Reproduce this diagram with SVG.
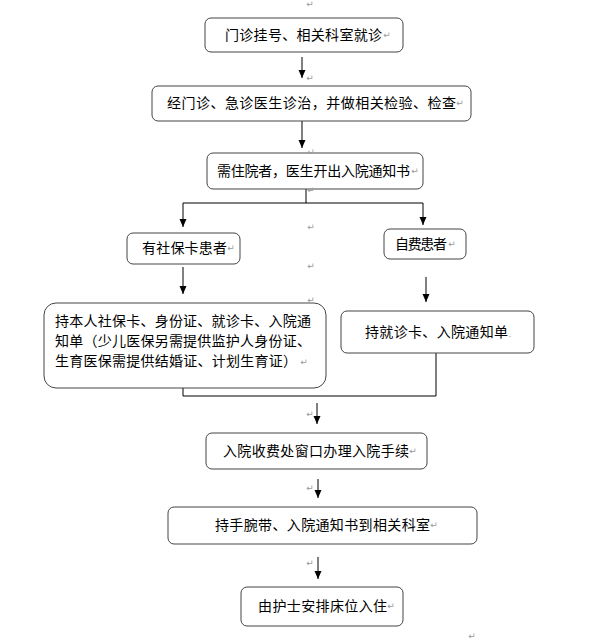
<svg xmlns="http://www.w3.org/2000/svg" width="591" height="644" viewBox="0 0 591 644">
<style>
.box{fill:#fff;stroke:#444;stroke-width:1}
.t{font-family:"Noto Sans CJK SC","Liberation Sans",sans-serif;font-size:14px;fill:#000}
.pm{font-family:"DejaVu Sans",sans-serif;font-size:9px;fill:#999;text-anchor:middle}
.ln{fill:none;stroke:#000;stroke-width:1}
.ar{fill:none;stroke:#000;stroke-width:1;marker-end:url(#ah)}
</style>
<defs>
<marker id="ah" markerUnits="userSpaceOnUse" markerWidth="8" markerHeight="8" refX="8" refY="3.5" orient="auto">
<path d="M0,0 L8,3.5 L0,7 z" fill="#000"/>
</marker>
</defs>
<rect width="591" height="644" fill="#fff"/>

<g id="connectors">
<line class="ar" x1="302" y1="57" x2="302" y2="78"/>
<line class="ar" x1="302" y1="121" x2="302" y2="148"/>
<polyline class="ln" points="306,189 306,203"/>
<polyline class="ln" points="183,203 423,203"/>
<line class="ar" x1="183" y1="203" x2="183" y2="227"/>
<line class="ar" x1="423" y1="203" x2="423" y2="225"/>
<line class="ar" x1="183" y1="267" x2="183" y2="294"/>
<line class="ar" x1="426" y1="277" x2="426" y2="302"/>
<polyline class="ln" points="183,388 183,396 436,396 436,353"/>
<line class="ar" x1="317" y1="403" x2="317" y2="424"/>
<line class="ar" x1="318" y1="479" x2="318" y2="498"/>
<line class="ar" x1="318" y1="557" x2="318" y2="579"/>
</g>

<g id="n1">
<rect class="box" x="205" y="18" width="198" height="34" rx="6"/>
<text class="t" x="225" y="40" textLength="157" lengthAdjust="spacing">门诊挂号、相关科室就诊</text>
</g>
<g id="n2">
<rect class="box" x="152" y="86" width="319" height="35" rx="6"/>
<text class="t" x="167" y="108" textLength="289" lengthAdjust="spacing">经门诊、急诊医生诊治，并做相关检验、检查</text>
</g>
<g id="n3">
<rect class="box" x="207" y="153" width="216" height="36" rx="6"/>
<text class="t" x="217" y="176" textLength="193" lengthAdjust="spacing">需住院者，医生开出入院通知书</text>
</g>
<g id="n4">
<rect class="box" x="127" y="233" width="113" height="31" rx="6"/>
<text class="t" x="142" y="253" textLength="85" lengthAdjust="spacing">有社保卡患者</text>
</g>
<g id="n5">
<rect class="box" x="384" y="229" width="82" height="30" rx="6"/>
<text class="t" x="395" y="249" textLength="52" lengthAdjust="spacing">自费患者</text>
</g>
<g id="n6">
<rect class="box" x="44" y="303" width="282" height="85" rx="12"/>
<text class="t" x="55" y="326" textLength="256" lengthAdjust="spacing">持本人社保卡、身份证、就诊卡、入院通</text>
<text class="t" x="55" y="346" textLength="256" lengthAdjust="spacing">知单（少儿医保另需提供监护人身份证、</text>
<text class="t" x="55" y="366" textLength="242" lengthAdjust="spacing">生育医保需提供结婚证、计划生育证）</text>
</g>
<g id="n7">
<rect class="box" x="341" y="311" width="193" height="42" rx="6"/>
<text class="t" x="365" y="337" textLength="143" lengthAdjust="spacing">持就诊卡、入院通知单</text>
<text class="pm" x="510" y="337">.</text>
</g>
<g id="n8">
<rect class="box" x="206" y="433" width="221" height="36" rx="6"/>
<text class="t" x="223" y="456" textLength="186" lengthAdjust="spacing">入院收费处窗口办理入院手续</text>
</g>
<g id="n9">
<rect class="box" x="168" y="507" width="309" height="37" rx="6"/>
<text class="t" x="215" y="530" textLength="215" lengthAdjust="spacing">持手腕带、入院通知书到相关科室</text>
</g>
<g id="n10">
<rect class="box" x="241" y="587" width="162" height="39" rx="6"/>
<text class="t" x="258" y="611" textLength="129" lengthAdjust="spacing">由护士安排床位入住</text>
</g>

<g id="marks">
<text class="pm" x="310" y="7">↵</text>
<text class="pm" x="310" y="81">↵</text>
<text class="pm" x="311" y="155">↵</text>
<text class="pm" x="311" y="193">↵</text>
<text class="pm" x="311" y="230">↵</text>
<text class="pm" x="311" y="269">↵</text>
<text class="pm" x="311" y="303">↵</text>
<text class="pm" x="310" y="417">↵</text>
<text class="pm" x="310" y="491">↵</text>
<text class="pm" x="310" y="566">↵</text>
<text class="pm" x="472" y="639">↵</text>
<text class="pm" x="387" y="38">↵</text>
<text class="pm" x="460" y="106">↵</text>
<text class="pm" x="415" y="174">↵</text>
<text class="pm" x="231" y="251">↵</text>
<text class="pm" x="452" y="247">↵</text>
<text class="pm" x="304" y="365">↵</text>
<text class="pm" x="413" y="454">↵</text>
<text class="pm" x="434" y="528">↵</text>
<text class="pm" x="391" y="609">↵</text>
</g>
</svg>
